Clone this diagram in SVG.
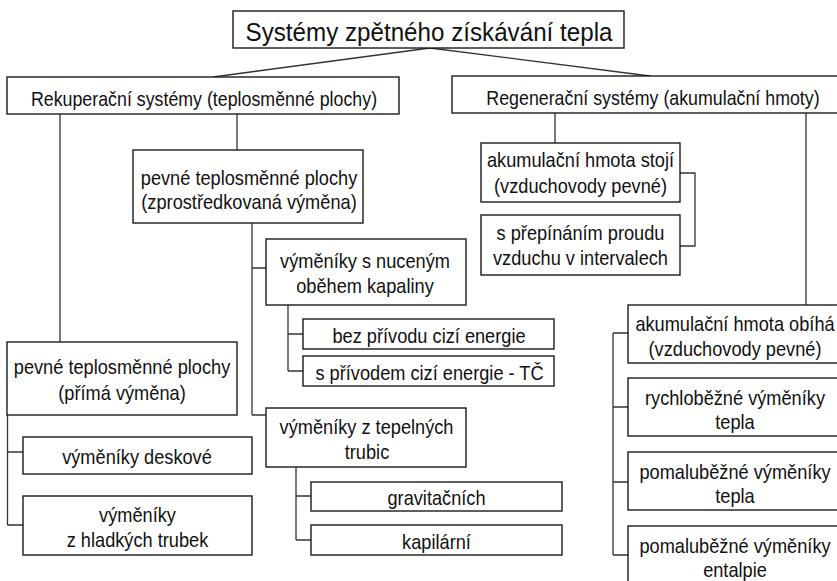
<svg xmlns="http://www.w3.org/2000/svg" width="837" height="581" viewBox="0 0 837 581">
<style>
rect{fill:#fff;stroke:#1a1a1a;stroke-width:1.4}
text{font-family:"Liberation Sans",Arial,sans-serif;font-size:18.2px;fill:#111;text-anchor:middle}
.t{font-size:24.2px}
.h{font-size:17.8px}
#connectors path{fill:none;stroke:#333;stroke-width:1.3}
</style>
<rect x="0" y="0" width="837" height="581" style="stroke:none;fill:#fff"/>
<g id="connectors">
<path d="M430,48 L213,77 M430,48 L650,76"/>
<path d="M60,114 V342 M237,114 V150"/>
<path d="M252,223 V415 M252,268 H266 M252,415 H266"/>
<path d="M288,305 V371 M288,334 H303 M288,371 H303"/>
<path d="M296,467 V540 M296,496 H311 M296,540 H311"/>
<path d="M7.5,415 V525 M7.5,452 H23 M7.5,525 H23"/>
<path d="M555,113 V143 M680,173 H695 V246 H680"/>
<path d="M806,113 V305 M613,333 V555 M613,333 H628 M613,407 H628 M613,482 H628 M613,555 H628"/>
</g>
<g id="n0"><rect x="233" y="11" width="391" height="37"/><text class="t" transform="translate(429,41) scale(1,1.1)">Systémy zpětného získávání tepla</text></g>
<g id="n1"><rect x="7" y="77" width="392" height="37"/><text class="h" transform="translate(204,105.5) scale(1,1.1)">Rekuperační systémy (teplosměnné plochy)</text></g>
<g id="n2"><rect x="452" y="76" width="403" height="37"/><text class="h" transform="translate(653,104.5) scale(1,1.1)">Regenerační systémy (akumulační hmoty)</text></g>
<g id="n3"><rect x="133" y="150" width="230" height="73"/><text transform="translate(249,184.5) scale(1,1.1)">pevné teplosměnné plochy</text><text transform="translate(249,209) scale(1,1.1)">(zprostředkovaná výměna)</text></g>
<g id="n4"><rect x="266" y="239" width="200" height="66"/><text transform="translate(365,268) scale(1,1.1)">výměníky s nuceným</text><text transform="translate(365,293) scale(1,1.1)">oběhem kapaliny</text></g>
<g id="n5"><rect x="303" y="319" width="251" height="30"/><text transform="translate(429,342.5) scale(1,1.1)">bez přívodu cizí energie</text></g>
<g id="n6"><rect x="303" y="356" width="251" height="30"/><text transform="translate(429.5,379.5) scale(1,1.1)">s přívodem cizí energie - TČ</text></g>
<g id="n7"><rect x="266" y="408" width="200" height="59"/><text transform="translate(366.5,433.5) scale(1,1.1)">výměníky z tepelných</text><text transform="translate(367,459) scale(1,1.1)">trubic</text></g>
<g id="n8"><rect x="311" y="482" width="251" height="29"/><text transform="translate(436.5,505) scale(1,1.1)">gravitačních</text></g>
<g id="n9"><rect x="311" y="525" width="251" height="30"/><text transform="translate(436.5,548.5) scale(1,1.1)">kapilární</text></g>
<g id="n10"><rect x="7" y="342" width="230" height="73"/><text transform="translate(122,374) scale(1,1.1)">pevné teplosměnné plochy</text><text transform="translate(122,400) scale(1,1.1)">(přímá výměna)</text></g>
<g id="n11"><rect x="23" y="437" width="229" height="37"/><text transform="translate(137,463.5) scale(1,1.1)">výměníky deskové</text></g>
<g id="n12"><rect x="23" y="496" width="229" height="59"/><text transform="translate(137.5,521.5) scale(1,1.1)">výměníky</text><text transform="translate(137.5,546.5) scale(1,1.1)">z hladkých trubek</text></g>
<g id="n13"><rect x="481" y="143" width="199" height="59"/><text transform="translate(580.5,167) scale(1,1.1)">akumulační hmota stojí</text><text transform="translate(580.5,192.5) scale(1,1.1)">(vzduchovody pevné)</text></g>
<g id="n14"><rect x="481" y="215" width="199" height="60"/><text transform="translate(580.5,240) scale(1,1.1)">s přepínáním proudu</text><text transform="translate(580.5,265) scale(1,1.1)">vzduchu v intervalech</text></g>
<g id="n15"><rect x="628" y="305" width="214" height="58"/><text transform="translate(735,331) scale(1,1.1)">akumulační hmota obíhá</text><text transform="translate(735,356) scale(1,1.1)">(vzduchovody pevné)</text></g>
<g id="n16"><rect x="628" y="378" width="214" height="58"/><text transform="translate(735,404.5) scale(1,1.1)">rychloběžné výměníky</text><text transform="translate(735,429) scale(1,1.1)">tepla</text></g>
<g id="n17"><rect x="628" y="452" width="214" height="58"/><text transform="translate(735,478.5) scale(1,1.1)">pomaluběžné výměníky</text><text transform="translate(735,503) scale(1,1.1)">tepla</text></g>
<g id="n18"><rect x="628" y="526" width="214" height="70"/><text transform="translate(735,553) scale(1,1.1)">pomaluběžné výměníky</text><text transform="translate(735,577) scale(1,1.1)">entalpie</text></g>
</svg>
